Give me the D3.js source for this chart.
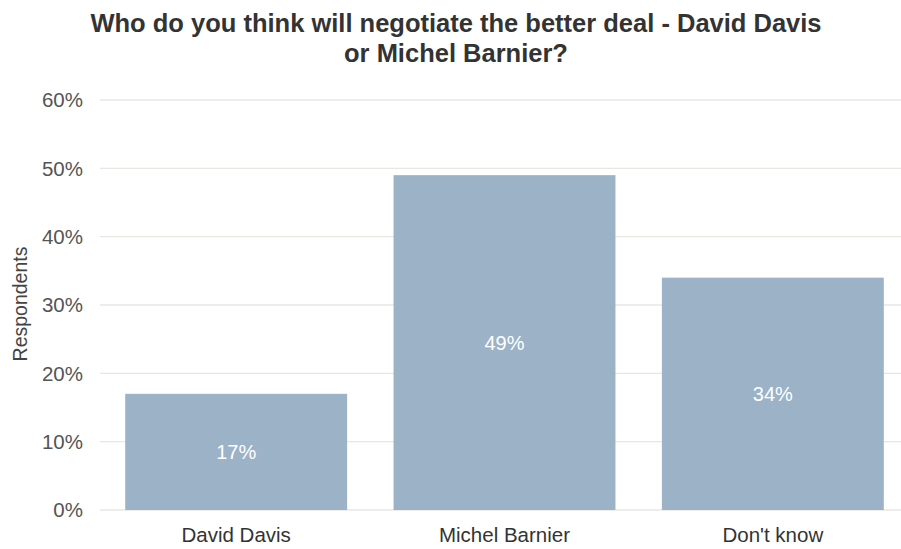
<!DOCTYPE html>
<html><head><meta charset="utf-8">
<script src="https://cdn.jsdelivr.net/npm/d3@7"></script>
<style>body{margin:0;background:#fff;}svg{display:block;font-family:"Liberation Sans",Arial,sans-serif;}</style>
</head><body>
<svg id="chart" width="901" height="549"></svg>
<script>
const categories = ["David Davis", "Michel Barnier", "Don't know"];
const values = [17, 49, 34];
const yTicks = [0, 10, 20, 30, 40, 50, 60];
const titleLines = ["Who do you think will negotiate the better deal - David Davis", "or Michel Barnier?"];

const svg = d3.select("#chart");
const x = d3.scaleBand().domain(categories).range([102, 907]).paddingInner(0.173).paddingOuter(0.0865);
const y = d3.scaleLinear().domain([0, 60]).range([510, 100]);

// gridlines
svg.append("g").selectAll("line").data(yTicks).join("line")
  .attr("x1", 100).attr("x2", 901)
  .attr("y1", d => y(d)).attr("y2", d => y(d))
  .attr("stroke", "#e9e7e2").attr("stroke-width", 1.3);

// y tick labels
svg.append("g").selectAll("text").data(yTicks).join("text")
  .attr("x", 83).attr("y", d => y(d)).attr("dy", "0.36em")
  .attr("text-anchor", "end").attr("font-size", 20.5).attr("fill", "#555")
  .text(d => d + "%");

// bars
svg.append("g").selectAll("rect").data(values).join("rect")
  .attr("x", (d, i) => x(categories[i])).attr("width", x.bandwidth())
  .attr("y", d => y(d)).attr("height", d => y(0) - y(d))
  .attr("fill", "#9bb2c7");

// bar labels
svg.append("g").selectAll("text").data(values).join("text")
  .attr("x", (d, i) => x(categories[i]) + x.bandwidth() / 2)
  .attr("y", d => (y(d) + y(0)) / 2).attr("dy", "0.36em")
  .attr("text-anchor", "middle").attr("font-size", 20).attr("fill", "#fff")
  .text(d => d + "%");

// x labels
svg.append("g").selectAll("text").data(categories).join("text")
  .attr("x", d => x(d) + x.bandwidth() / 2).attr("y", 535).attr("dy", "0.36em")
  .attr("text-anchor", "middle").attr("font-size", 20.5).attr("fill", "#333")
  .text(d => d);

// y axis title
svg.append("text").attr("transform", "translate(27,304) rotate(-90)")
  .attr("text-anchor", "middle").attr("font-size", 19.5).attr("fill", "#444")
  .text("Respondents");

// title
svg.append("g").selectAll("text").data(titleLines).join("text")
  .attr("x", 456).attr("y", (d, i) => 32 + i * 30)
  .attr("text-anchor", "middle").attr("font-size", 25.5).attr("font-weight", "bold").attr("fill", "#333")
  .text(d => d);
</script>
</body></html>
